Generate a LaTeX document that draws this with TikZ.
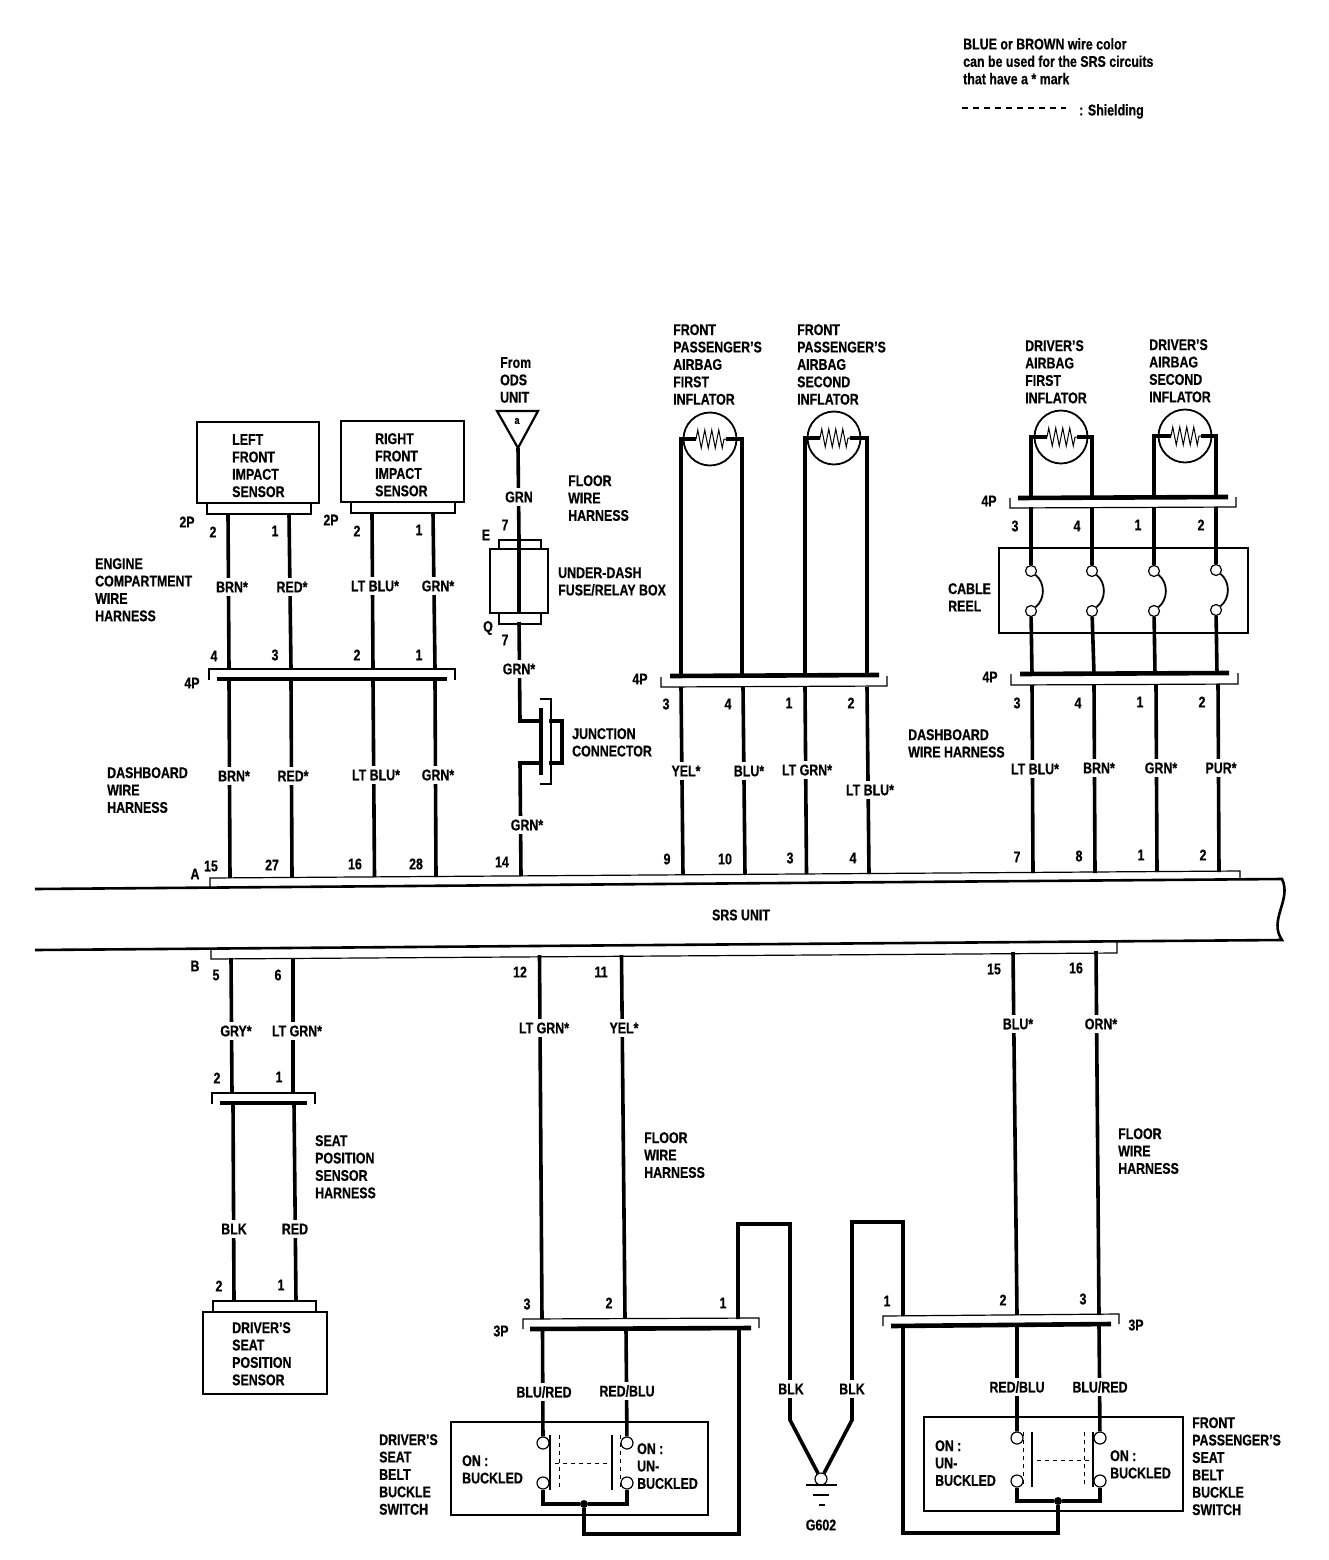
\documentclass[tikz,border=0pt]{standalone}
\usepackage{fontspec}
\setmainfont[FakeStretch=0.8,BoldFeatures={FakeBold=0.5}]{Liberation Sans}
\usetikzlibrary{backgrounds,decorations.pathmorphing}
\tikzset{
  wire/.style={line width=3.6pt},
  conbar/.style={line width=4.6pt},
  shell/.style={line width=1.2pt},
  thinwire/.style={line width=1.8pt},
  dashwire/.style={line width=1.1pt,dash pattern=on 6pt off 5pt},
  swdash/.style={line width=0.8pt,dash pattern=on 4pt off 4pt},
  resistor/.style={line width=1pt,decorate,decoration={zigzag,segment length=7pt,amplitude=9pt}},
  txt/.style={align=left,anchor=north west,inner sep=0pt,yshift=-1pt,font=\bfseries\fontsize{15.5}{17.4}\selectfont},
  wirelbl/.style={fill=white,inner xsep=1pt,inner ysep=3.5pt,font=\bfseries\fontsize{15.5}{17}\selectfont},
  pinno/.style={inner sep=0pt,font=\bfseries\fontsize{15.5}{17}\selectfont},
  unitbox/.style={draw,line width=2.6pt,inner sep=0pt},
  inflator/.style={draw,circle,line width=1.8pt,minimum size=53pt,inner sep=0pt},
  contact/.style={draw,circle,fill=white,line width=1.2pt,minimum size=11pt,inner sep=0pt},
}
\begin{document}
\begin{tikzpicture}[x=1pt,y=-1pt]
\useasboundingbox (0,0) rectangle (1328,1560);

\node[txt] (legend) at (963,37) {BLUE or BROWN wire color\\can be used for the SRS circuits\\that have a * mark};
\coordinate (sh1) at (962,108);
\coordinate (sh2) at (1066,108);
\draw[dashwire] (sh1) -- (sh2);
\node[txt] (shield) at (1079,103) {: Shielding};

\node[unitbox,minimum width=122pt,minimum height=81pt] (lfis) at (258,462.5) {};
\node[txt] (lfist) at (232,433) {LEFT\\FRONT\\IMPACT\\SENSOR};
\node[unitbox,minimum width=123pt,minimum height=81pt] (rfis) at (402.5,461.5) {};
\node[txt] (rfist) at (375,432) {RIGHT\\FRONT\\IMPACT\\SENSOR};
\draw[shell] (207,503) -- (207,514) -- (311,514) -- (311,503);
\draw[shell] (351,502) -- (351,513) -- (455,513) -- (455,502);
\node[pinno] (p2pa) at (187,522) {2P};
\node[pinno] (p2pb) at (331,520) {2P};
\node[pinno] (n1) at (213,532) {2};
\node[pinno] (n2) at (275,531) {1};
\node[pinno] (n3) at (357,531) {2};
\node[pinno] (n4) at (419,530) {1};
\node[txt] (ecwh) at (95,557) {ENGINE\\COMPARTMENT\\WIRE\\HARNESS};
\node[wirelbl] (l1) at (232,587) {BRN*};
\node[wirelbl] (l2) at (292,587) {RED*};
\node[wirelbl] (l3) at (375,586) {LT BLU*};
\node[wirelbl] (l4) at (438,586) {GRN*};
\node[pinno] (n5) at (214,656) {4};
\node[pinno] (n6) at (275,655) {3};
\node[pinno] (n7) at (357,655) {2};
\node[pinno] (n8) at (419,655) {1};
\draw[shell] (209,680) -- (209,669) -- (455,669) -- (455,680);
\draw[conbar] (217,679) -- (447,679);
\node[pinno] (p4pa) at (192,683) {4P};
\node[txt] (dwha) at (107,766) {DASHBOARD\\WIRE\\HARNESS};
\node[wirelbl] (l5) at (234,776) {BRN*};
\node[wirelbl] (l6) at (293,776) {RED*};
\node[wirelbl] (l7) at (376,775) {LT BLU*};
\node[wirelbl] (l8) at (438,775) {GRN*};

\node[txt] (ods) at (500,356) {From\\ODS\\UNIT};
\node[inner sep=0pt,font=\bfseries\fontsize{11}{11}\selectfont] (odsa) at (517,421) {a};
\node[txt] (fwha) at (568,474) {FLOOR\\WIRE\\HARNESS};
\node[wirelbl] (l9) at (519,497) {GRN};
\node[pinno] (n9) at (505,525) {7};
\node[pinno] (e) at (486,535) {E};
\draw[shell] (499,549) -- (499,540) -- (541,540) -- (541,549);
\node[draw,line width=2.4pt,minimum width=58pt,minimum height=64pt,inner sep=0pt] (fuse) at (519,581) {};
\draw[shell] (499,613) -- (499,624) -- (541,624) -- (541,613);
\node[txt] (udb) at (558,566) {UNDER-DASH\\FUSE/RELAY BOX};
\node[pinno] (q) at (488,628) {Q};
\node[pinno] (n10) at (505,640) {7};
\node[wirelbl] (l10) at (519,669) {GRN*};
\node[txt] (jcon) at (572,727) {JUNCTION\\CONNECTOR};
\node[wirelbl] (l11) at (527,825) {GRN*};

\node[txt] (fpa) at (673,323) {FRONT\\PASSENGER'S\\AIRBAG\\FIRST\\INFLATOR};
\node[txt] (fpb) at (797,323) {FRONT\\PASSENGER'S\\AIRBAG\\SECOND\\INFLATOR};
\node[txt] (dra) at (1025,339) {DRIVER'S\\AIRBAG\\FIRST\\INFLATOR};
\node[txt] (drb) at (1149,338) {DRIVER'S\\AIRBAG\\SECOND\\INFLATOR};
\node[inflator] (ia) at (710,439) {};
\node[inflator] (ib) at (834,438) {};
\node[inflator] (ic) at (1061,437) {};
\node[inflator] (id) at (1185,436) {};
\coordinate (ra1) at (696,439);
\coordinate (ra2) at (726,439);
\coordinate (rb1) at (820,438);
\coordinate (rb2) at (850,438);
\coordinate (rc1) at (1047,437);
\coordinate (rc2) at (1077,437);
\coordinate (rd1) at (1171,436);
\coordinate (rd2) at (1201,436);
\draw[resistor] (ra1) -- (ra2);
\draw[resistor] (rb1) -- (rb2);
\draw[resistor] (rc1) -- (rc2);
\draw[resistor] (rd1) -- (rd2);

\draw[conbar] (1018,498) -- (1228,497);
\draw[shell] (1010,498) -- (1010,508) -- (1236,507) -- (1236,497);
\node[pinno] (p4pc) at (989,501) {4P};
\node[pinno] (n11) at (1015,526) {3};
\node[pinno] (n12) at (1077,526) {4};
\node[pinno] (n13) at (1138,525) {1};
\node[pinno] (n14) at (1201,525) {2};
\node[draw,line width=2.4pt,minimum width=249pt,minimum height=85pt,inner sep=0pt] (reel) at (1123.5,590.5) {};
\node[txt] (creel) at (948,582) {CABLE\\REEL};
\node[contact] (ca) at (1031,571) {};
\node[contact] (cb) at (1031,611) {};
\node[contact] (cc) at (1092,571) {};
\node[contact] (cd) at (1092,611) {};
\node[contact] (ce) at (1154,571) {};
\node[contact] (cf) at (1154,611) {};
\node[contact] (cg) at (1216,570) {};
\node[contact] (ch) at (1216,610) {};
\draw[thinwire] (ca) to[bend left=50] (cb);
\draw[thinwire] (cc) to[bend left=50] (cd);
\draw[thinwire] (ce) to[bend left=50] (cf);
\draw[thinwire] (cg) to[bend left=50] (ch);

\draw[conbar] (670,676) -- (879,675);
\draw[shell] (661,677) -- (661,687) -- (887,686) -- (887,676);
\node[pinno] (p4pb) at (640,679) {4P};
\draw[conbar] (1020,674) -- (1229,673);
\draw[shell] (1011,674) -- (1011,685) -- (1238,684) -- (1238,673);
\node[pinno] (p4pd) at (990,677) {4P};
\node[pinno] (n15) at (666,704) {3};
\node[pinno] (n16) at (728,704) {4};
\node[pinno] (n17) at (789,703) {1};
\node[pinno] (n18) at (851,703) {2};
\node[pinno] (n19) at (1017,703) {3};
\node[pinno] (n20) at (1078,703) {4};
\node[pinno] (n21) at (1140,702) {1};
\node[pinno] (n22) at (1202,702) {2};
\node[txt] (dwhb) at (908,728) {DASHBOARD\\WIRE HARNESS};
\node[wirelbl] (l12) at (686,771) {YEL*};
\node[wirelbl] (l13) at (749,771) {BLU*};
\node[wirelbl] (l14) at (807,770) {LT GRN*};
\node[wirelbl] (l15) at (870,790) {LT BLU*};
\node[wirelbl] (l16) at (1035,769) {LT BLU*};
\node[wirelbl] (l17) at (1099,768) {BRN*};
\node[wirelbl] (l18) at (1161,768) {GRN*};
\node[wirelbl] (l19) at (1221,768) {PUR*};

\node[pinno] (a) at (195,874) {A};
\node[pinno] (n23) at (211,866) {15};
\node[pinno] (n24) at (272,865) {27};
\node[pinno] (n25) at (355,864) {16};
\node[pinno] (n26) at (416,864) {28};
\node[pinno] (n27) at (502,862) {14};
\node[pinno] (n28) at (667,859) {9};
\node[pinno] (n29) at (725,859) {10};
\node[pinno] (n30) at (790,858) {3};
\node[pinno] (n31) at (853,858) {4};
\node[pinno] (n32) at (1017,857) {7};
\node[pinno] (n33) at (1079,856) {8};
\node[pinno] (n34) at (1141,855) {1};
\node[pinno] (n35) at (1203,855) {2};
\draw[shell] (210,888) -- (210,878) -- (1240,871) -- (1240,879);
\draw[line width=2.6pt] (35,889) -- (1282,879) .. controls (1292,900) and (1268,920) .. (1282,940) -- (35,950);
\node[pinno] (srs) at (741,915) {SRS UNIT};
\draw[shell] (211,949) -- (211,959) -- (1117,953) -- (1117,942);
\node[pinno] (b) at (195,966) {B};
\node[pinno] (n36) at (216,975) {5};
\node[pinno] (n37) at (278,975) {6};
\node[pinno] (n38) at (520,972) {12};
\node[pinno] (n39) at (601,972) {11};
\node[pinno] (n40) at (994,969) {15};
\node[pinno] (n41) at (1076,968) {16};
\node[wirelbl] (l20) at (236,1031) {GRY*};
\node[wirelbl] (l21) at (297,1031) {LT GRN*};
\node[wirelbl] (l22) at (544,1028) {LT GRN*};
\node[wirelbl] (l23) at (624,1028) {YEL*};
\node[wirelbl] (l24) at (1018,1024) {BLU*};
\node[wirelbl] (l25) at (1101,1024) {ORN*};

\node[pinno] (n42) at (217,1078) {2};
\node[pinno] (n43) at (279,1077) {1};
\draw[shell] (212,1104) -- (212,1093) -- (315,1093) -- (315,1104);
\draw[conbar] (220,1103) -- (307,1103);
\node[txt] (spsh) at (315,1134) {SEAT\\POSITION\\SENSOR\\HARNESS};
\node[wirelbl] (l26) at (234,1229) {BLK};
\node[wirelbl] (l27) at (295,1229) {RED};
\node[pinno] (n44) at (219,1286) {2};
\node[pinno] (n45) at (281,1285) {1};
\draw[shell] (213,1311) -- (213,1301) -- (316,1301) -- (316,1311);
\node[unitbox,minimum width=124pt,minimum height=82pt] (dsps) at (265,1353) {};
\node[txt] (dspst) at (232,1321) {DRIVER'S\\SEAT\\POSITION\\SENSOR};

\node[txt] (fwhb) at (644,1131) {FLOOR\\WIRE\\HARNESS};
\node[txt] (fwhc) at (1118,1127) {FLOOR\\WIRE\\HARNESS};
\node[pinno] (n46) at (527,1304) {3};
\node[pinno] (n47) at (609,1303) {2};
\node[pinno] (n48) at (723,1303) {1};
\node[pinno] (n49) at (887,1301) {1};
\node[pinno] (n50) at (1003,1300) {2};
\node[pinno] (n51) at (1083,1299) {3};
\draw[shell] (523,1329) -- (523,1319) -- (759,1318) -- (759,1328);
\draw[conbar] (530,1329) -- (751,1328);
\node[pinno] (p3pa) at (501,1331) {3P};
\draw[shell] (883,1326) -- (883,1316) -- (1119,1314) -- (1119,1324);
\draw[conbar] (891,1326) -- (1111,1324);
\node[pinno] (p3pb) at (1136,1325) {3P};
\node[wirelbl] (l28) at (544,1392) {BLU/RED};
\node[wirelbl] (l29) at (627,1391) {RED/BLU};
\node[wirelbl] (l30) at (791,1389) {BLK};
\node[wirelbl] (l31) at (852,1389) {BLK};
\node[wirelbl] (l32) at (1017,1387) {RED/BLU};
\node[wirelbl] (l33) at (1100,1387) {BLU/RED};

\node[draw,line width=2.4pt,minimum width=257pt,minimum height=93pt,inner sep=0pt] (dsw) at (579.5,1468.5) {};
\node[txt] (dswl) at (379,1433) {DRIVER'S\\SEAT\\BELT\\BUCKLE\\SWITCH};
\node[txt] (dona) at (462,1454) {ON :\\BUCKLED};
\node[txt] (donb) at (637,1442) {ON :\\UN-\\BUCKLED};
\node[contact,minimum size=12pt] (da) at (543,1443) {};
\node[contact,minimum size=12pt] (db) at (543,1483) {};
\node[contact,minimum size=12pt] (dc) at (627,1443) {};
\node[contact,minimum size=12pt] (dd) at (627,1483) {};
\draw[thinwire] (550,1435) -- (550,1490);
\draw[thinwire] (612,1435) -- (612,1490);
\draw[swdash] (559,1435) -- (559,1490);
\draw[swdash] (620,1435) -- (620,1490);
\draw[swdash] (555,1463) -- (607,1463);
\node[circle,fill=black,inner sep=0pt,minimum size=8pt] (dj) at (584,1504) {};

\node[draw,line width=2.4pt,minimum width=259pt,minimum height=94pt,inner sep=0pt] (psw) at (1053.5,1464) {};
\node[txt] (pswl) at (1192,1416) {FRONT\\PASSENGER'S\\SEAT\\BELT\\BUCKLE\\SWITCH};
\node[txt] (pona) at (935,1439) {ON :\\UN-\\BUCKLED};
\node[txt] (ponb) at (1110,1449) {ON :\\BUCKLED};
\node[contact,minimum size=12pt] (pa) at (1017,1438) {};
\node[contact,minimum size=12pt] (pb) at (1017,1481) {};
\node[contact,minimum size=12pt] (pc) at (1100,1438) {};
\node[contact,minimum size=12pt] (pd) at (1100,1481) {};
\draw[thinwire] (1032,1432) -- (1032,1487);
\draw[thinwire] (1093,1432) -- (1093,1487);
\draw[swdash] (1023,1432) -- (1023,1487);
\draw[swdash] (1084,1432) -- (1084,1487);
\draw[swdash] (1037,1460) -- (1090,1460);
\node[circle,fill=black,inner sep=0pt,minimum size=8pt] (pj) at (1058,1501) {};

\node[contact,minimum size=12pt] (gnd) at (821,1479) {};
\coordinate (g1) at (806,1485);
\coordinate (g2) at (837,1485);
\coordinate (g3) at (813,1495);
\coordinate (g4) at (829,1495);
\coordinate (g5) at (819,1505);
\coordinate (g6) at (825,1505);
\draw[thinwire] (g1) -- (g2) (g3) -- (g4) (g5) -- (g6);
\node[pinno] (g602) at (821,1525) {G602};

\coordinate (t1) at (497,411);
\coordinate (t2) at (538,411);
\coordinate (t3) at (518,448);
\draw[line width=2.2pt,line join=miter] (t1) -- (t2) -- (t3) -- cycle;

\begin{scope}[on background layer]
\draw[wire] (228,514) -- (229,669) (229,681) -- (230,878);
\draw[wire] (289,514) -- (291,669) (291,681) -- (292,877);
\draw[wire] (372,513) -- (373,669) (373,681) -- (374.5,877);
\draw[wire] (433,513) -- (435,669) (435,681) -- (436,877);
\draw[wire] (t3) -- (519,540) -- (519,613) (519,622) -- (520,721) -- (541,721);
\draw[wire] (541,763) -- (520,763) -- (521,876);
\draw[line width=4pt] (541,708) -- (541,775);
\draw[shell] (540,699) -- (551,699) -- (551,784) -- (540,784);
\draw[line width=3.8pt] (549,721) -- (562,721) -- (562,763) -- (549,763);
\draw[wire] (ra1) -| (681,676) (681,687) -- (683,875);
\draw[wire] (ra2) -| (742,676) (743,687) -- (745,875);
\draw[wire] (rb1) -| (805,676) (805,687) -- (806.5,874);
\draw[wire] (rb2) -| (867,676) (867,687) -- (869,874);
\draw[wire] (rc1) -| (1031,498) (1031,507) -- (ca) (cb) -- (1032,674) (1032,685) -- (1033,873);
\draw[wire] (rc2) -| (1092,498) (1092,507) -- (cc) (cd) -- (1094,674) (1094,685) -- (1095,873);
\draw[wire] (rd1) -| (1154,498) (1154,507) -- (ce) (cf) -- (1155,674) (1156,685) -- (1157,872);
\draw[wire] (rd2) -| (1216,497) (1216,507) -- (cg) (ch) -- (1217,673) (1218,684) -- (1219,872);
\draw[wire] (231,958) -- (232,1093) (233,1103) -- (234,1301);
\draw[wire] (293,958) -- (293,1093) (294,1103) -- (296,1301);
\draw[wire] (539.5,955) -- (542,1319) (542.5,1329) -- (da);
\draw[wire] (621.5,955) -- (625,1318) (626,1329) -- (dc);
\draw[wire] (1013,952) -- (1017,1315) (1017,1325) -- (pa);
\draw[wire] (1096,951) -- (1099,1315) (1099,1325) -- (pc);
\draw[wire] (db) -- (543,1504) -- (dj) -- (627,1504) -- (dd);
\draw[wire] (dj) -- (584,1534) -- (739,1534) -- (739,1329);
\draw[wire] (pb) -- (1017,1501) -- (pj) -- (1100,1501) -- (pd);
\draw[wire] (pj) -- (1058,1533) -- (903,1533) -- (903,1325);
\draw[wire] (738,1319) -- (738,1224) -- (790,1224) -- (790,1420) -- (gnd);
\draw[wire] (903,1316) -- (903,1222) -- (852,1222) -- (852,1420) -- (gnd);
\end{scope}
\end{tikzpicture}
\end{document}
